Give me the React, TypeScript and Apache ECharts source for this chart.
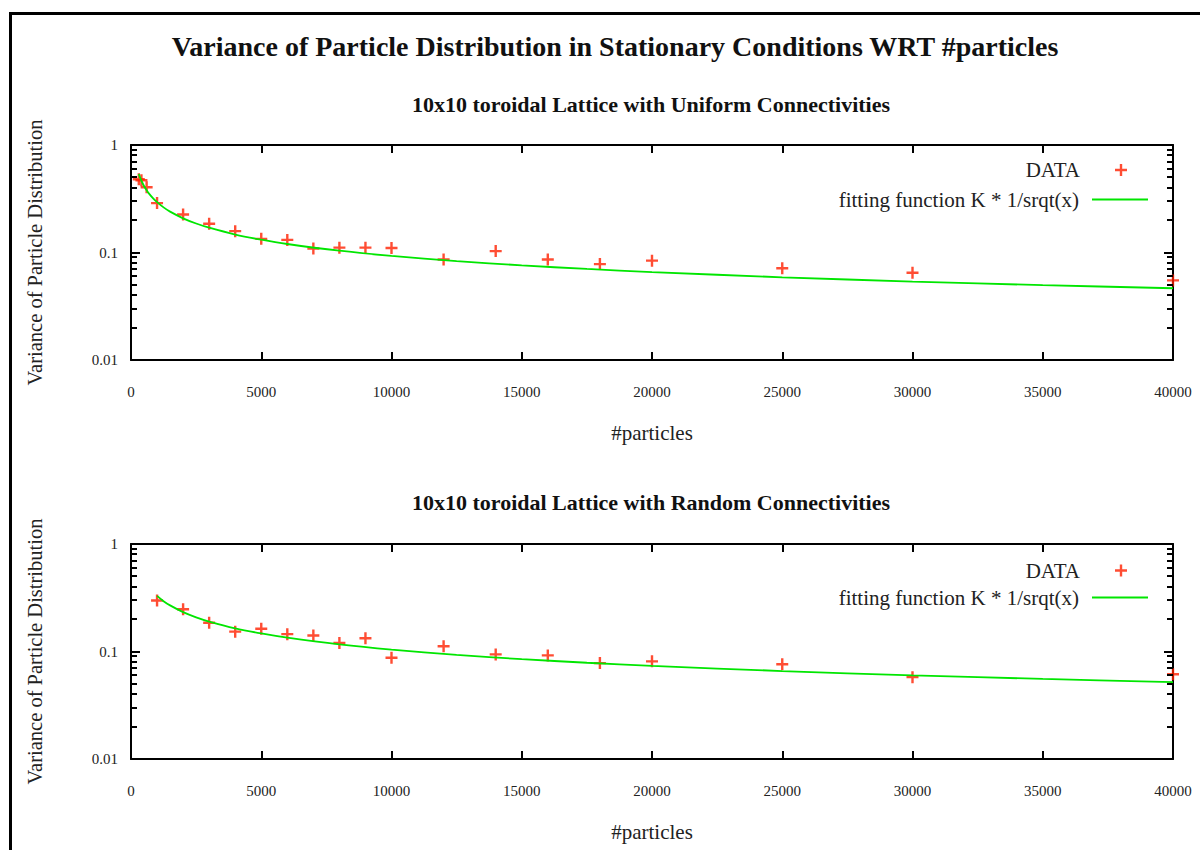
import React, { useEffect, useRef } from "react";
import * as echarts from "echarts";

// ---- data ----
const titleText = "Variance of Particle Distribution in Stationary Conditions WRT #particles";
const topSubtitle = "10x10 toroidal Lattice with Uniform Connectivities";
const bottomSubtitle = "10x10 toroidal Lattice with Random Connectivities";
const yName = "Variance of Particle Distribution";
const xName = "#particles";
const dataName = "DATA";
const fitName = "fitting function K * 1/srqt(x)";

const topX = [300, 400, 600, 1000, 2000, 3000, 4000, 5000, 6000, 7000, 8000, 9000, 10000, 12000, 14000, 16000, 18000, 20000, 25000, 30000, 40000];
const topY = [0.48, 0.47, 0.405, 0.288, 0.226, 0.185, 0.158, 0.134, 0.131, 0.109, 0.111, 0.111, 0.11, 0.086, 0.103, 0.086, 0.078, 0.084, 0.0714, 0.0648, 0.055];

const bottomX = [1000, 2000, 3000, 4000, 5000, 6000, 7000, 8000, 9000, 10000, 12000, 14000, 16000, 18000, 20000, 25000, 30000, 40000];
const bottomY = [0.298, 0.247, 0.185, 0.153, 0.163, 0.145, 0.141, 0.12, 0.133, 0.0874, 0.112, 0.094, 0.092, 0.078, 0.081, 0.076, 0.0577, 0.0615];

const topFitX = [300, 350, 400, 500, 600, 700, 850, 1000, 1250, 1500, 2000, 2500, 3000, 4000, 5000, 6000, 8000, 10000, 12500, 15000, 17500, 20000, 25000, 30000, 35000, 40000];
const topFitY = [0.537, 0.497, 0.465, 0.416, 0.38, 0.351, 0.319, 0.294, 0.263, 0.24, 0.208, 0.186, 0.17, 0.147, 0.1315, 0.12, 0.104, 0.093, 0.0832, 0.0759, 0.0703, 0.0658, 0.0588, 0.0537, 0.0497, 0.0465];

const bottomFitX = [1000, 1250, 1500, 2000, 2500, 3000, 4000, 5000, 6000, 8000, 10000, 12500, 15000, 17500, 20000, 25000, 30000, 35000, 40000];
const bottomFitY = [0.329, 0.294, 0.2685, 0.2325, 0.208, 0.19, 0.1644, 0.1471, 0.1343, 0.1163, 0.104, 0.093, 0.0849, 0.0786, 0.0735, 0.0658, 0.06, 0.0556, 0.052];

const yMinorTicks = [0.02, 0.03, 0.04, 0.05, 0.06, 0.07, 0.08, 0.09, 0.2, 0.3, 0.4, 0.5, 0.6, 0.7, 0.8, 0.9];

const X_MIN = 0;
const X_MAX = 40000;
const X_INTERVAL = 5000;
const Y_MIN = 0.01;
const Y_MAX = 1;

const RED = "#ff2000";
const GREEN = "#00e600";
const FONT = "'Liberation Serif', 'DejaVu Serif', serif";
const PLUS = "path://M4,0h2v4h4v2h-4v4h-2v-4h-4v-2h4z";

export default function App() {
  const ref = useRef<HTMLDivElement>(null);

  useEffect(() => {
    document.body.style.margin = "0";
    const chart = echarts.init(ref.current!, null, { renderer: "svg" });

    const grids = [
      { left: 131, right: 27, top: 145, height: 215 },
      { left: 131, right: 27, top: 544, height: 215 },
    ];

    const xAxes: any[] = [];
    const yAxes: any[] = [];
    grids.forEach((_, gi) => {
      const axisLine = { show: true, onZero: false, lineStyle: { color: "#000", width: 2 } };
      xAxes.push({
        type: "value", gridIndex: gi, position: "bottom",
        min: X_MIN, max: X_MAX, interval: X_INTERVAL,
        axisLine, splitLine: { show: false },
        axisTick: { show: true, inside: true, length: 8, lineStyle: { color: "#000", width: 2 } },
        axisLabel: { color: "#222", fontFamily: FONT, fontSize: 15, margin: 24, formatter: (v: number) => String(v) },
        name: xName, nameLocation: "middle", nameGap: 62,
        nameTextStyle: { color: "#222", fontFamily: FONT, fontSize: 21 },
      });
      xAxes.push({
        type: "value", gridIndex: gi, position: "top",
        min: X_MIN, max: X_MAX, interval: X_INTERVAL,
        axisLine, splitLine: { show: false },
        axisTick: { show: true, inside: true, length: 8, lineStyle: { color: "#000", width: 2 } },
        axisLabel: { show: false },
      });
      yAxes.push({
        type: "log", logBase: 10, gridIndex: gi, position: "left",
        min: Y_MIN, max: Y_MAX,
        axisLine, splitLine: { show: false },
        axisTick: { show: true, inside: true, length: 9, lineStyle: { color: "#000", width: 2 } },
        axisLabel: { color: "#222", fontFamily: FONT, fontSize: 15, margin: 13 },
        name: yName, nameLocation: "middle", nameGap: 86,
        nameTextStyle: { color: "#222", fontFamily: FONT, fontSize: 20.5 },
      });
      yAxes.push({
        type: "log", logBase: 10, gridIndex: gi, position: "right",
        min: Y_MIN, max: Y_MAX,
        axisLine, splitLine: { show: false },
        axisTick: { show: true, inside: true, length: 9, lineStyle: { color: "#000", width: 2 } },
        axisLabel: { show: false },
      });
    });

    const minorTickSeries = (gi: number, side: "left" | "right") => ({
      type: "custom",
      xAxisIndex: gi * 2, yAxisIndex: gi * 2,
      silent: true,
      clip: false,
      z: 10,
      data: yMinorTicks.map((v) => [X_MAX / 2, v]),
      renderItem: (params: any, api: any) => {
        const cs = params.coordSys;
        const y = Math.round(api.coord([X_MAX / 2, api.value(1)])[1]);
        const x0 = side === "left" ? cs.x : cs.x + cs.width - 6;
        return {
          type: "line",
          shape: { x1: x0, y1: y, x2: x0 + 6, y2: y },
          style: { stroke: "#000", lineWidth: 2 },
        };
      },
    });

    const series: any[] = [];
    const sets = [
      { xs: topX, ys: topY, fx: topFitX, fy: topFitY },
      { xs: bottomX, ys: bottomY, fx: bottomFitX, fy: bottomFitY },
    ];
    sets.forEach((s, gi) => {
      series.push(minorTickSeries(gi, "left"));
      series.push(minorTickSeries(gi, "right"));
      series.push({
        name: dataName, type: "scatter",
        xAxisIndex: gi * 2, yAxisIndex: gi * 2,
        symbol: PLUS, symbolSize: 12,
        itemStyle: { color: RED },
        data: s.xs.map((x, i) => [x, s.ys[i]]),
        z: 3,
      });
      series.push({
        name: fitName, type: "line",
        xAxisIndex: gi * 2, yAxisIndex: gi * 2,
        showSymbol: false, symbol: "none",
        smooth: 0.3,
        lineStyle: { color: GREEN, width: 1.8 },
        itemStyle: { color: GREEN },
        data: s.fx.map((x, i) => [x, s.fy[i]]),
        z: 4,
      });
    });

    const legendBase = {
      orient: "vertical", align: "right", padding: 0,
      selectedMode: false,
    };
    const dataLegend = (top: number) => ({
      ...legendBase, right: 73, top, itemWidth: 12, itemHeight: 12,
      textStyle: { color: "#222", fontFamily: FONT, fontSize: 21, padding: [0, 30, 0, 0] },
      data: [{ name: dataName, icon: PLUS, itemStyle: { color: RED } }],
    });
    const fitLegend = (top: number) => ({
      ...legendBase, right: 52, top, itemWidth: 56, itemHeight: 2,
      textStyle: { color: "#222", fontFamily: FONT, fontSize: 21, padding: [0, 8, 0, 0] },
      data: [{ name: fitName, icon: "rect", itemStyle: { color: GREEN } }],
    });
    const legends = [dataLegend(159.5), fitLegend(189), dataLegend(560), fitLegend(587)];

    chart.setOption({
      animation: false,
      backgroundColor: "#fff",
      title: [
        { text: titleText, left: 610, textAlign: "center", top: 27, textStyle: { fontFamily: FONT, fontSize: 28, fontWeight: "bold", color: "#111" } },
        { text: topSubtitle, left: 646, textAlign: "center", top: 88, textStyle: { fontFamily: FONT, fontSize: 22, fontWeight: "bold", color: "#111" } },
        { text: bottomSubtitle, left: 646, textAlign: "center", top: 486, textStyle: { fontFamily: FONT, fontSize: 22, fontWeight: "bold", color: "#111" } },
      ],
      graphic: [
        { type: "rect", shape: { x: 10.5, y: 13.5, width: 1400, height: 1000 }, style: { fill: "none", stroke: "#000", lineWidth: 3 }, silent: true },
      ],
      legend: legends,
      grid: grids,
      xAxis: xAxes,
      yAxis: yAxes,
      series,
    });

    return () => chart.dispose();
  }, []);

  return <div ref={ref} style={{ width: 1200, height: 850 }} />;
}
